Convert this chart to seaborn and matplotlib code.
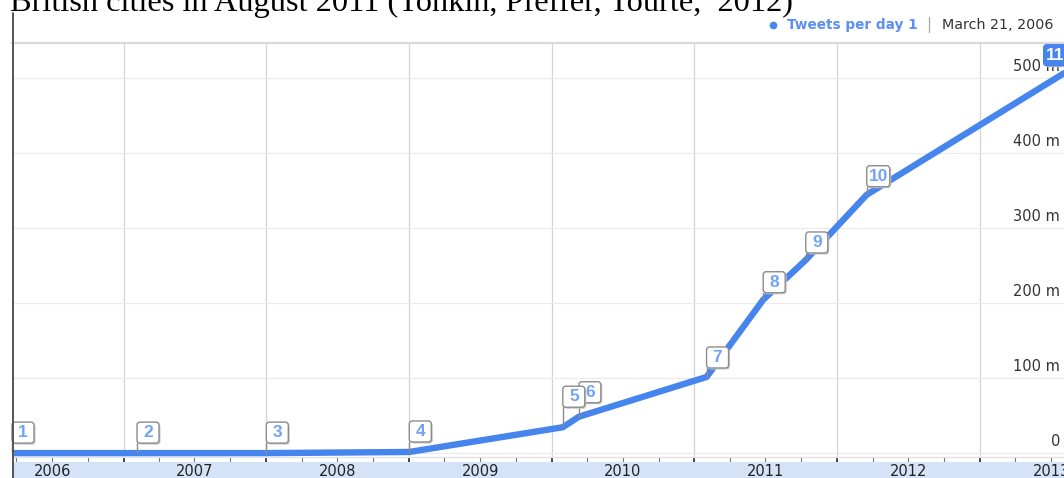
# Tweets por día (captura de línea de tiempo anotada)

import pandas as pd
import seaborn as sns
import matplotlib.pyplot as plt
import matplotlib.dates as mdates
from matplotlib.patches import FancyBboxPatch
from matplotlib.lines import Line2D
from matplotlib.transforms import ScaledTranslation, blended_transform_factory

#%% Datos

fechas = ["2006-03-21", "2008-01-01", "2009-01-01", "2010-01-29", "2010-03-11",
          "2011-02-01", "2011-06-26", "2011-10-13", "2012-03-17", "2013-08-04"]
tweets = [0.5, 0.5, 2, 35, 49, 102, 205, 258, 345, 507]  # millones por día

flag_num = ["1", "2", "3", "4", "5", "6", "7", "8", "9", "10", "11"]
flag_fecha = ["2006-03-21", "2007-02-04", "2008-01-01", "2009-01-01", "2010-01-29",
              "2010-03-11", "2011-02-01", "2011-06-26", "2011-10-13", "2012-03-17",
              "2013-06-13"]
flag_valor = [0.5, 0.5, 0.5, 2, 35, 49, 102, 205, 258, 345, 517]

anios = [2006, 2007, 2008, 2009, 2010, 2011, 2012, 2013]
y_ticks = [0, 100, 200, 300, 400, 500]
y_labels = ["0", "100 m", "200 m", "300 m", "400 m", "500 m"]

titulo = "British cities in August 2011 (Tonkin, Pfeffer, Tourte,  2012)"
serie = "Tweets per day 1"
fecha_sel = "March 21, 2006"

df = pd.DataFrame({"fecha": pd.to_datetime(fechas), "tweets": tweets})

#%% Figura

W, H = 1064, 478
sns.set_theme(style="white")
plt.rcParams["font.family"] = ["DejaVu Sans"]

fig = plt.figure(figsize=(W / 100, H / 100), dpi=100)
fig.patch.set_facecolor("white")

ax = fig.add_axes([12 / W, 21 / H, 1052 / W, 414 / H])
band = fig.add_axes([12 / W, 0, 1052 / W, 16 / H], sharex=ax)

azul = "#4684ee"
sns.lineplot(data=df, x="fecha", y="tweets", color=azul, lw=4.6, ax=ax, zorder=3)

ax.set_xlim(pd.Timestamp("2006-03-21"), pd.Timestamp("2013-08-04"))
ax.set_ylim(-4.7, 547.3)
ax.set_xlabel("")
ax.set_ylabel("")

ax.xaxis.set_major_locator(mdates.YearLocator())
ax.xaxis.set_minor_locator(mdates.MonthLocator(bymonth=[4, 7, 10]))
ax.set_yticks(y_ticks)
ax.tick_params(axis="x", which="major", direction="out", length=3.6, width=1.2,
               color="#222222", labelbottom=False, bottom=True)
ax.tick_params(axis="x", which="minor", direction="out", length=3.4, width=0.8,
               color="#777777", bottom=True)
ax.tick_params(axis="y", length=0, labelleft=False)

ax.grid(True, axis="x", which="major", color="#d0d6d0", lw=0.9)
ax.grid(True, axis="y", color="#e9e9f3", lw=0.8)

for s in ["left", "right"]:
    ax.spines[s].set_visible(False)
ax.spines["top"].set_color("#dadada")
ax.spines["top"].set_linewidth(1.6)
ax.spines["bottom"].set_color("#e2e2e8")
ax.spines["bottom"].set_linewidth(1.0)

# etiquetas del eje y (dentro, a la derecha, sobre la línea de grilla)
tr_y = blended_transform_factory(ax.transAxes, ax.transData) + \
    ScaledTranslation(-0.04, 0.115, fig.dpi_scale_trans)
for v, lab in zip(y_ticks, y_labels):
    ax.text(1, v, lab, transform=tr_y, ha="right", va="center",
            fontsize=10.5, color="#333333", zorder=2)

# banda inferior con los años
band.set_facecolor("#d4e3f7")
for s in band.spines.values():
    s.set_visible(False)
band.tick_params(left=False, bottom=False, labelleft=False, labelbottom=False,
                 which="both")
band.grid(False)
band.set_ylim(0, 1)
tr_b = blended_transform_factory(band.transData, band.transAxes)
for a in anios:
    band.text(mdates.date2num(pd.Timestamp(f"{a}-07-02")), 0.42, str(a),
              transform=tr_b, ha="center", va="center", fontsize=10.5,
              color="#222222", clip_on=True)

#%% Banderas de eventos (las primeras quedan por encima)

polos = [0.10, 0.10, 0.10, 0.10, 0.20, 0.14, 0.09, 0.07, 0.07, 0.08, 0.0]
for i, (num, f, v, p) in enumerate(zip(flag_num, flag_fecha, flag_valor, polos)):
    xn = mdates.date2num(pd.Timestamp(f))
    tr = fig.dpi_scale_trans + ScaledTranslation(xn, v, ax.transData)
    w = 0.22 if len(num) == 1 else 0.23
    sel = num == "11"
    z = 20 - i
    if p > 0:
        ax.add_line(Line2D([0, 0], [0, p], transform=tr, color="#8a8a8a",
                           lw=1.0, zorder=z, clip_on=False))
    sombra = FancyBboxPatch((0.015, p - 0.015), w, 0.21,
                            boxstyle="round,pad=0,rounding_size=0.03",
                            transform=tr, fc="#c8c8c8", ec="none", zorder=z,
                            clip_on=False)
    caja = FancyBboxPatch((0, p), w, 0.21,
                          boxstyle="round,pad=0,rounding_size=0.03",
                          transform=tr, fc=azul if sel else "white",
                          ec=azul if sel else "#8c8c8c", lw=1.0, zorder=z + 0.1,
                          clip_on=False)
    ax.add_patch(sombra)
    ax.add_patch(caja)
    ax.text(w / 2, p + 0.105, num, transform=tr, ha="center", va="center",
            family="Liberation Sans", fontsize=12.5, fontweight="bold",
            color="white" if sel else "#72a2f7", zorder=z + 0.2, clip_on=False)

#%% Textos de cabecera y borde izquierdo

fig.text(10 / W, 1 - 10.5 / H, titulo, family="Liberation Serif", fontsize=23.3,
         color="black", ha="left", va="baseline")

fig.add_artist(Line2D([773 / W], [1 - 25 / H], marker="o", ms=4.5, color=azul,
                      lw=0))
fig.text(918 / W, 1 - 25 / H, serie, color="#5b8ff0", fontsize=9.8,
         fontweight="bold", ha="right", va="center")
fig.text(929 / W, 1 - 25 / H, "|", color="#b0a0b0", fontsize=10.5, ha="center",
         va="center")
fig.text(1053 / W, 1 - 25 / H, fecha_sel, color="#333333", fontsize=10.3,
         ha="right", va="center")

fig.add_artist(Line2D([12.5 / W, 12.5 / W], [0, 1 - 13 / H], color="#555555",
                      lw=1.4))

fig.savefig("out.png", dpi=100, facecolor="white")
